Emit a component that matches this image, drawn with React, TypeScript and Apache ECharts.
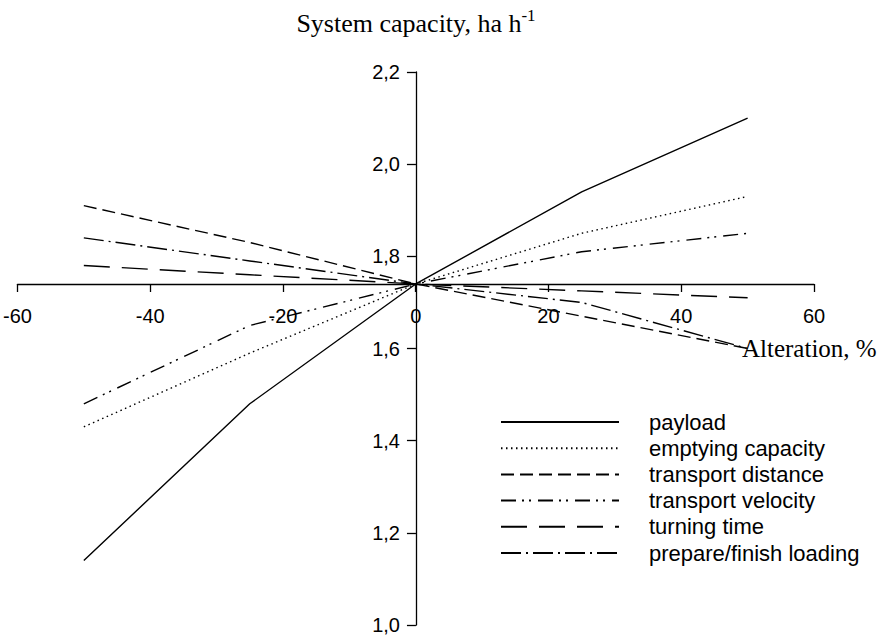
import React, { useEffect, useRef } from "react";
import * as echarts from "echarts";

// ---- data ----
const alterations = [-50, -25, 0, 25, 50];
const payload = [1.14, 1.48, 1.74, 1.94, 2.1];
const emptyingCapacity = [1.43, 1.59, 1.74, 1.85, 1.93];
const transportDistance = [1.91, 1.83, 1.74, 1.67, 1.6];
const transportVelocity = [1.48, 1.65, 1.74, 1.81, 1.85];
const turningTime = [1.78, 1.76, 1.74, 1.725, 1.71];
const prepareFinishLoading = [1.84, 1.79, 1.74, 1.7, 1.6];
const seriesNames = [
  "payload",
  "emptying capacity",
  "transport distance",
  "transport velocity",
  "turning time",
  "prepare/finish loading",
];
const xMin = -60;
const xMax = 60;
const xInterval = 20;
const yMin = 1.0;
const yMax = 2.2;
const yInterval = 0.2;
const axisCrossY = 1.74; // value where the horizontal axis crosses
const axisCrossX = 0; // value where the vertical axis crosses
const yAxisTitle = "System capacity, ha h";
const yAxisTitleSup = "-1";
const xAxisTitle = "Alteration, %";

// ---- layout ----
const W = 891;
const H = 639;
const gridLeft = 17;
const gridRight = 77;
const gridTop = 72;
const gridBottom = 14;
const gridW = W - gridLeft - gridRight;
const gridH = H - gridTop - gridBottom;

const SANS = "Liberation Sans, Arial, sans-serif";
const SERIF = "Liberation Serif, Times New Roman, serif";

const dashes: any[] = [
  "solid",
  [1.5, 3.5],
  [13, 6],
  [15, 6, 2, 5, 2, 7],
  [26, 12],
  [20, 5, 2, 5],
];
const valueSets = [
  payload,
  emptyingCapacity,
  transportDistance,
  transportVelocity,
  turningTime,
  prepareFinishLoading,
];

export default function App() {
  const ref = useRef<HTMLDivElement>(null);
  useEffect(() => {
    const chart = echarts.init(ref.current!, null, { renderer: "svg" });
    const xOffset = -((axisCrossY - yMin) / (yMax - yMin)) * gridH;
    const yOffset = -((axisCrossX - xMin) / (xMax - xMin)) * gridW;
    const option: any = {
      animation: false,
      backgroundColor: "#fff",
      grid: { left: gridLeft, right: gridRight, top: gridTop, bottom: gridBottom, containLabel: false },
      xAxis: {
        type: "value",
        min: xMin,
        max: xMax,
        interval: xInterval,
        position: "bottom",
        offset: xOffset,
        axisLine: { onZero: false, lineStyle: { color: "#000", width: 1.3 } },
        axisTick: { show: true, inside: false, length: 8, lineStyle: { color: "#000", width: 1.3 } },
        axisLabel: {
          color: "#000",
          fontFamily: SANS,
          fontSize: 20,
          margin: 22,
          showMinLabel: true,
          showMaxLabel: true,
        },
        splitLine: { show: false },
        z: 1,
      },
      yAxis: {
        type: "value",
        min: yMin,
        max: yMax,
        interval: yInterval,
        position: "left",
        offset: yOffset,
        axisLine: { onZero: false, lineStyle: { color: "#000", width: 1.3 } },
        axisTick: { show: true, inside: false, length: 9, lineStyle: { color: "#000", width: 1.3 } },
        axisLabel: {
          color: "#000",
          fontFamily: SANS,
          fontSize: 20,
          margin: 16,
          formatter: (v: number) => v.toFixed(1).replace(".", ","),
        },
        splitLine: { show: false },
        z: 1,
      },
      legend: {
        orient: "vertical",
        left: 495,
        top: 406,
        itemWidth: 118,
        itemHeight: 24,
        itemGap: 4.2,
        selectedMode: false,
        data: seriesNames,
        itemStyle: { opacity: 0 },
        textStyle: {
          color: "#000",
          fontFamily: SANS,
          fontSize: 22,
          padding: [0, 0, 0, 25],
        },
      },
      graphic: [
        {
          type: "text",
          x: 416,
          y: 23,
          style: {
            text: `{a|${yAxisTitle}}{s|${yAxisTitleSup}}`,
            align: "center",
            verticalAlign: "middle",
            rich: {
              a: { fontFamily: SERIF, fontSize: 26, lineHeight: 32, fill: "#000", color: "#000" },
              s: {
                fontFamily: SERIF,
                fontSize: 17,
                lineHeight: 17,
                verticalAlign: "top",
                fill: "#000",
                color: "#000",
              },
            },
          },
        },
        {
          type: "text",
          x: 742,
          y: 348,
          style: {
            text: xAxisTitle,
            fontFamily: SERIF,
            fontSize: 25,
            fill: "#000",
            align: "left",
            verticalAlign: "middle",
          },
        },
      ],
      series: seriesNames.map((name, i) => ({
        type: "line",
        name,
        color: "#000",
        symbol: "none",
        data: alterations.map((x, j) => [x, valueSets[i][j]]),
        lineStyle: { color: "#000", width: 1.4, type: dashes[i] },
        z: 3,
      })),
    };
    chart.setOption(option);
    return () => chart.dispose();
  }, []);
  return (
    <div
      ref={ref}
      style={{ position: "absolute", left: 0, top: 0, width: W, height: H, background: "#fff" }}
    />
  );
}
